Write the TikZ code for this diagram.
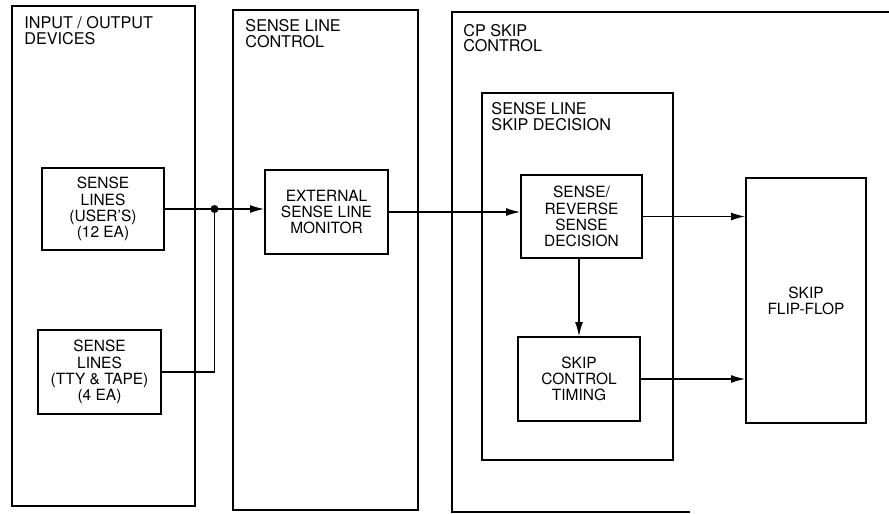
\documentclass[tikz,border=0pt]{standalone}
\usepackage{fontspec}
\setmainfont{TeX Gyre Heros}
\usetikzlibrary{arrows.meta,calc}

\begin{document}
\begin{tikzpicture}[
		panel/.style={draw=black, line width=1pt, inner sep=0pt},
		block/.style={draw=black, line width=1pt, align=center, inner sep=0pt,
			font=\fontsize{8.8}{9.2}\selectfont},
		head/.style={anchor=north west, align=left, inner sep=0pt,
			font=\fontsize{9.2}{8.8}\selectfont},
		flow/.style={line width=0.7pt, -{Latex[length=8pt,width=4.5pt]}}
	]
	\useasboundingbox (0,0) rectangle (17.78,-10.28);

	% Define panels with their coordinates
	\node[panel, minimum width=3.66cm, minimum height=10cm] (io) at (2.07,-5.12) {};
	\node[panel, minimum width=3.70cm, minimum height=10cm] (slc) at (6.51,-5.2) {};
	\draw[line width=1pt] (17.78,-0.24) -- (9.04,-0.24) coordinate (cp) -- (9.04,-10.24) -- (13.8,-10.24);
	\node[panel, minimum width=3.82cm, minimum height=7.34cm] (sld) at (11.55,-5.53) {};

	% Panel titles
	\node[head] (iohead) at ([shift={(0.26,-0.22)}]io.north west) {INPUT / OUTPUT\\DEVICES};
	\node[head] (slchead) at ([shift={(0.26,-0.2)}]slc.north west) {SENSE LINE\\CONTROL};
	\node[head] (cphead) at ([shift={(0.22,-0.24)}]cp) {CP SKIP\\CONTROL};
	\node[head] (sldhead) at ([shift={(0.2,-0.2)}]sld.north west) {SENSE LINE\\SKIP DECISION};

	% Define blocks with their coordinates
	\node[block, minimum width=2.44cm, minimum height=1.64cm] (users) at (2.06,-4.18) {SENSE\\LINES\\(USER'S)\\(12 EA)};
	\node[block, minimum width=2.46cm, minimum height=1.68cm] (tty) at (1.99,-7.44) {SENSE\\LINES\\(TTY \& TAPE)\\(4 EA)};
	\node[block, minimum width=2.46cm, minimum height=1.68cm] (monitor) at (6.53,-4.24) {EXTERNAL\\SENSE LINE\\MONITOR};
	\node[block, minimum width=2.42cm, minimum height=1.66cm] (decision) at (11.63,-4.33) {SENSE/\\REVERSE\\SENSE\\DECISION};
	\node[block, minimum width=2.44cm, minimum height=1.68cm] (timing) at (11.58,-7.58) {SKIP\\CONTROL\\TIMING};
	\node[block, minimum width=2.40cm, minimum height=4.9cm] (flipflop) at (16.12,-6.01) {SKIP\\FLIP-FLOP};

	% Draw connectors
	\coordinate (jn) at ($(users.east)!0.5!(monitor.west |- users.east)$);
	\draw[flow] (users.east) -- (monitor.west |- users.east);
	\draw[line width=0.7pt] (tty.east) -| (jn);
	\fill (jn) circle (0.08);
	\draw[flow] (monitor.east) -- (decision.west |- monitor.east);
	\draw[flow] (decision.east) -- (flipflop.west |- decision.east);
	\draw[flow] (decision.south -| timing.north) -- (timing.north);
	\draw[flow] (timing.east) -- (flipflop.west |- timing.east);

\end{tikzpicture}
\end{document}
